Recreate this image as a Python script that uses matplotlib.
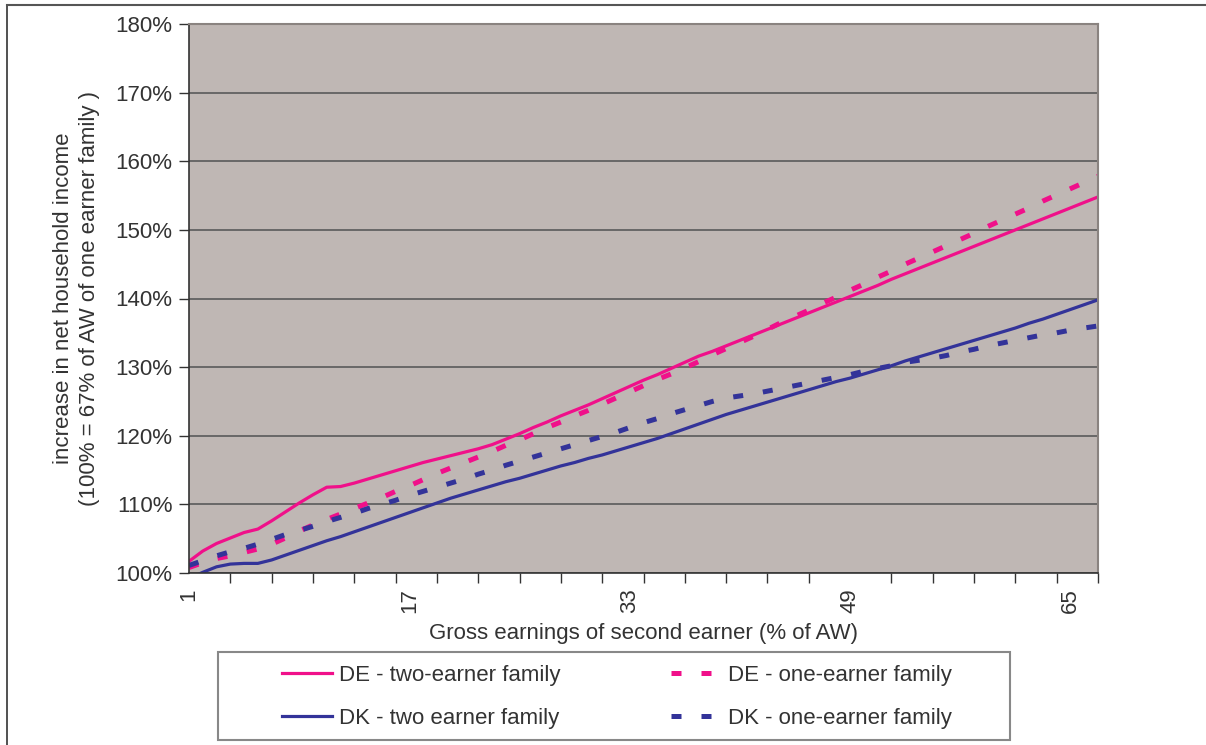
import matplotlib.pyplot as plt
from matplotlib.lines import Line2D
from matplotlib.patches import Rectangle
from matplotlib.ticker import FixedLocator, PercentFormatter

plt.rcParams['font.family'] = ['Liberation Sans', 'DejaVu Sans']

# second earner's gross earnings, % of AW
earnings = list(range(1, 68))

de_two = [101.7, 103.2, 104.3, 105.1, 105.9, 106.4, 107.6, 108.9, 110.2, 111.4,
          112.5, 112.6, 113.1, 113.7, 114.3, 114.9, 115.5, 116.1, 116.6, 117.1,
          117.6, 118.1, 118.7, 119.5, 120.3, 121.2, 122.0, 122.9, 123.7, 124.5,
          125.4, 126.3, 127.2, 128.1, 128.9, 129.8, 130.7, 131.6, 132.3, 133.1,
          133.9, 134.7, 135.5, 136.3, 137.1, 137.9, 138.7, 139.5, 140.3, 141.1,
          141.9, 142.8, 143.6, 144.4, 145.2, 146.0, 146.8, 147.6, 148.4, 149.2,
          150.0, 150.8, 151.6, 152.4, 153.2, 154.0, 154.8]

de_one = [100.8, 101.5, 102.1, 102.5, 103.0, 103.5, 104.2, 105.1, 106.1, 107.0,
          107.8, 108.6, 109.4, 110.2, 111.0, 111.9, 112.7, 113.6, 114.5, 115.3,
          116.1, 116.9, 117.7, 118.6, 119.4, 120.3, 121.2, 122.0, 122.9, 123.7,
          124.6, 125.5, 126.4, 127.3, 128.2, 129.0, 129.9, 130.8, 131.8, 132.7,
          133.6, 134.5, 135.5, 136.5, 137.4, 138.3, 139.3, 140.2, 141.2, 142.1,
          143.1, 144.0, 145.0, 145.9, 146.8, 147.7, 148.6, 149.5, 150.5, 151.4,
          152.3, 153.2, 154.2, 155.1, 156.0, 156.9, 157.8]

dk_two = [99.2, 100.1, 100.9, 101.3, 101.4, 101.4, 101.9, 102.6, 103.3, 104.0,
          104.7, 105.3, 106.0, 106.7, 107.4, 108.1, 108.8, 109.5, 110.2, 110.9,
          111.5, 112.1, 112.7, 113.3, 113.8, 114.4, 115.0, 115.6, 116.1, 116.7,
          117.2, 117.8, 118.4, 119.0, 119.6, 120.3, 121.0, 121.7, 122.4, 123.1,
          123.7, 124.3, 124.9, 125.5, 126.1, 126.7, 127.3, 127.9, 128.4, 129.0,
          129.6, 130.2, 130.9, 131.5, 132.1, 132.7, 133.3, 133.9, 134.5, 135.1,
          135.7, 136.4, 137.0, 137.7, 138.4, 139.1, 139.8]

dk_one = [101.1, 101.8, 102.5, 103.1, 103.6, 104.2, 104.9, 105.6, 106.2, 106.8,
          107.5, 108.1, 108.7, 109.4, 110.0, 110.6, 111.3, 111.9, 112.5, 113.1,
          113.7, 114.4, 115.0, 115.7, 116.3, 116.9, 117.5, 118.1, 118.7, 119.3,
          119.9, 120.5, 121.2, 121.9, 122.5, 123.2, 123.8, 124.4, 125.0, 125.5,
          125.8, 126.1, 126.5, 126.9, 127.3, 127.7, 128.1, 128.5, 128.9, 129.4,
          129.8, 130.2, 130.7, 131.0, 131.3, 131.7, 132.2, 132.6, 133.1, 133.5,
          133.9, 134.3, 134.7, 135.0, 135.4, 135.7, 136.0]

labels = ['DE - two-earner family', 'DE - one-earner family',
          'DK - two earner family', 'DK - one-earner family']

pink = '#F0108A'
navy = '#333399'
txt = '#333333'
fs = 16

fig = plt.figure(figsize=(12.06, 7.45), dpi=100)
ax = fig.add_axes([189 / 1206, 1 - 573 / 745, 909 / 1206, 549 / 745])
ax.set_facecolor('#BFB7B4')

dash = dict(lw=3.6, dashes=(2.0, 4.0), solid_capstyle='butt')
l1, = ax.plot(earnings, de_two, color=pink, lw=2.3)
l2, = ax.plot(earnings, de_one, color=pink, **dash)
l3, = ax.plot(earnings, dk_two, color=navy, lw=2.3)
l4, = ax.plot(earnings, dk_one, color=navy, **dash)

ax.set_xlim(1, 67)
ax.set_ylim(100, 180)
ax.yaxis.set_major_locator(FixedLocator(range(100, 181, 10)))
ax.yaxis.set_major_formatter(PercentFormatter(decimals=0))
ax.grid(axis='y', color='#5a5a5a', lw=1.2)
ax.set_axisbelow(True)

ax.set_xticks([1, 17, 33, 49, 65])
ax.set_xticks(range(1, 68, 3), minor=True)
ax.tick_params(axis='x', which='major', length=0, pad=11, labelrotation=90,
               labelsize=fs, labelcolor=txt)
ax.tick_params(axis='x', which='minor', length=7, width=1, color='#333333')
ax.tick_params(axis='y', length=7, width=1, color='#333333', pad=5,
               labelsize=fs, labelcolor=txt)

for side in ('top', 'right'):
    ax.spines[side].set_color('#8a8380')
    ax.spines[side].set_linewidth(1.5)
for side in ('left', 'bottom'):
    ax.spines[side].set_color('#333333')
    ax.spines[side].set_linewidth(1.2)

ax.set_xlabel('Gross earnings of second earner (% of AW)', fontsize=fs, color=txt, labelpad=7)
ax.set_ylabel('increase in net household income\n(100% = 67% of AW of one earner family )',
              fontsize=fs, color=txt, labelpad=11, linespacing=1.3)

# legend rows: DE pair on top, DK pair below
leg = fig.legend([l1, l3, l2, l4], [labels[0], labels[2], labels[1], labels[3]],
                 ncol=2, loc='center', bbox_to_anchor=(617 / 1206, 1 - 697 / 745),
                 fontsize=fs, handlelength=2.25, handletextpad=0.3,
                 columnspacing=5.0, labelspacing=1.0, frameon=False)
for t in leg.get_texts():
    t.set_color(txt)
fig.add_artist(Rectangle((218 / 1206, 1 - 740 / 745), 792 / 1206, 88 / 745,
                         transform=fig.transFigure, fill=False,
                         edgecolor='#888888', lw=1.5))

# outer chart border (left and top edges)
fig.add_artist(Line2D([7 / 1206, 7 / 1206], [0, 1 - 5 / 745], color='#333333', lw=1.2))
fig.add_artist(Line2D([7 / 1206, 1], [1 - 5 / 745, 1 - 5 / 745], color='#555555', lw=1.5))

fig.savefig('out.png', dpi=100)
